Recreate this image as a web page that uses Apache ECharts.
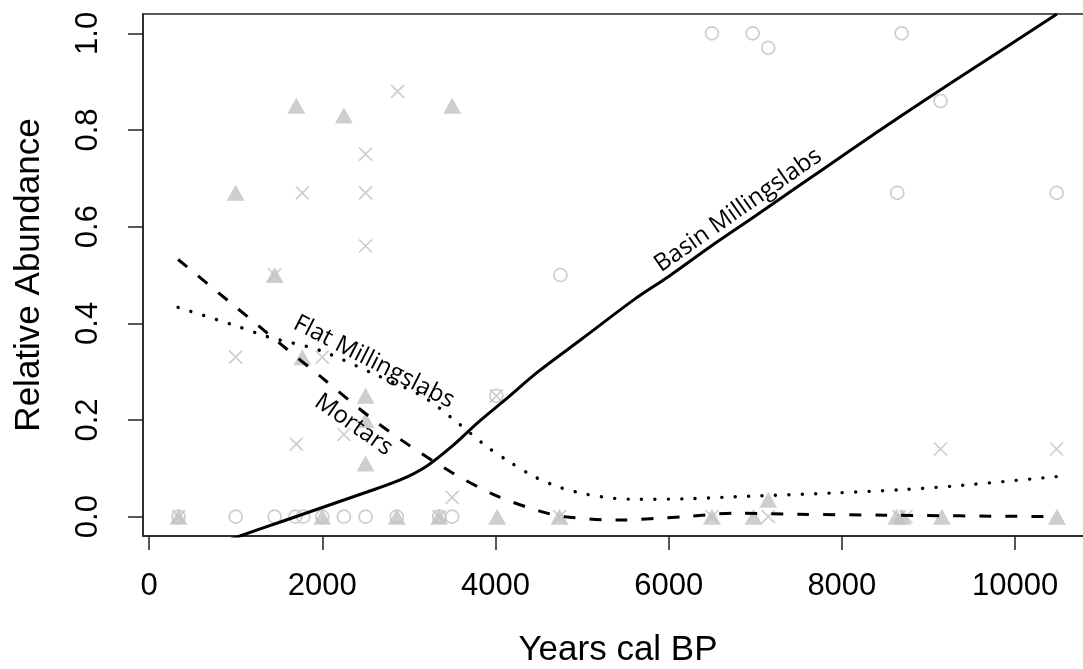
<!DOCTYPE html>
<html><head><meta charset="utf-8">
<script src="https://cdn.jsdelivr.net/npm/echarts@6/dist/echarts.min.js"></script>
<style>html,body{margin:0;padding:0;background:#fff}#c{width:1083px;height:669px}</style>
</head><body><div id="c"></div>
<script>
// ---- data ----
const xTicks = [0, 2000, 4000, 6000, 8000, 10000];
const yTicks = [0, 0.2, 0.4, 0.6, 0.8, 1.0];

const circlePts = [
  [6500, 1.0], [6970, 1.0], [7150, 0.97], [8690, 1.0], [9140, 0.86], [8640, 0.67], [10480, 0.67],
  [4750, 0.5], [4010, 0.25],
  [340, 0], [1000, 0], [1450, 0], [1690, 0], [1780, 0], [2000, 0], [2250, 0], [2500, 0],
  [2860, 0], [3350, 0], [3500, 0]
];
const trianglePts = [
  [1700, 0.85], [2250, 0.83], [3500, 0.85], [1000, 0.67], [1450, 0.5], [1770, 0.33],
  [2500, 0.25], [2500, 0.2], [2500, 0.11], [7150, 0.035],
  [340, 0], [2000, 0], [2860, 0], [3350, 0], [4020, 0], [4740, 0], [6500, 0], [6980, 0],
  [8630, 0], [8700, 0], [9155, 0], [10484, 0]
];
const crossPts = [
  [2870, 0.88], [2500, 0.75], [1770, 0.67], [2500, 0.67], [2500, 0.56], [1450, 0.5],
  [1000, 0.33], [2000, 0.33], [1700, 0.15], [2250, 0.17], [3500, 0.04], [4010, 0.25],
  [9140, 0.14], [10480, 0.14],
  [340, 0], [3350, 0], [4740, 0], [6500, 0], [7150, 0], [8660, 0], [8740, 0]
];

const basinLine = [
  [350, -0.085], [1050, -0.04], [1500, -0.012], [2000, 0.019], [2500, 0.05], [2900, 0.076],
  [3200, 0.104], [3500, 0.146], [3800, 0.195], [4100, 0.24], [4500, 0.301], [5000, 0.368], [5600, 0.449],
  [6000, 0.497], [6500, 0.561], [7000, 0.622], [7500, 0.684], [8100, 0.758], [8700, 0.831],
  [9250, 0.896], [10484, 1.04]
];
const flatLine = [
  [335, 0.433], [1000, 0.395], [1375, 0.372], [1972, 0.344], [2588, 0.296], [3166, 0.248],
  [3552, 0.196], [3900, 0.145], [4167, 0.113], [4457, 0.082], [4753, 0.06], [5061, 0.046],
  [5369, 0.038], [5670, 0.036], [6200, 0.037], [6750, 0.041], [7900, 0.049], [8700, 0.056],
  [9330, 0.064], [10484, 0.083]
];
const mortarLine = [
  [335, 0.532], [1000, 0.434], [1500, 0.36], [2000, 0.287], [2550, 0.206], [3000, 0.148],
  [3500, 0.091], [4000, 0.044], [4500, 0.012], [4800, 0.0], [5400, -0.007], [6170, 0.0],
  [6750, 0.007], [7500, 0.005], [8500, 0.003], [10484, 0.0]
];

const curveLabels = [
  { text: 'Basin Millingslabs', at: [6802, 0.634], angle: 35 },
  { text: 'Flat Millingslabs', at: [2597, 0.32], angle: -27 },
  { text: 'Mortars', at: [2362, 0.19], angle: -35 }
];

// ---- chart ----
const gray = '#c2c2c2';
const chart = echarts.init(document.getElementById('c'), null, { renderer: 'canvas' });
const axisFont = 'Liberation Sans';

chart.setOption({
  animation: false,
  backgroundColor: '#fff',
  grid: { left: 143, top: 14, right: -10, bottom: 133, show: true, borderColor: '#222', borderWidth: 1.5,
          containLabel: false, outerBoundsMode: 'none' },
  xAxis: {
    type: 'value', min: -70, max: 10900,
    name: 'Years cal BP', nameLocation: 'middle', nameGap: 97,
    nameTextStyle: { fontFamily: axisFont, fontSize: 35, color: '#000' },
    axisLine: { show: true, onZero: false, lineStyle: { color: '#222', width: 1.5 } },
    axisTick: { show: true, length: 14, customValues: xTicks, lineStyle: { color: '#222', width: 1.5 } },
    axisLabel: { customValues: xTicks, margin: 35, fontFamily: axisFont, fontSize: 31, color: '#000', formatter: v => String(v) },
    splitLine: { show: false }
  },
  yAxis: {
    type: 'value', min: -0.04, max: 1.04,
    name: 'Relative Abundance', nameLocation: 'middle', nameGap: 96, nameRotate: 90,
    nameTextStyle: { fontFamily: axisFont, fontSize: 35, color: '#000' },
    axisLine: { show: true, onZero: false, lineStyle: { color: '#222', width: 1.5 } },
    axisTick: { show: true, length: 15, customValues: yTicks, lineStyle: { color: '#222', width: 1.5 } },
    axisLabel: { customValues: yTicks, rotate: 90, margin: 39, fontFamily: axisFont, fontSize: 31, color: '#000', formatter: v => v.toFixed(1) },
    splitLine: { show: false }
  },
  series: [
    { name: 'tri', type: 'scatter', data: trianglePts, symbol: 'triangle', symbolSize: [18, 16],
      itemStyle: { color: gray }, z: 2 },
    { name: 'circ', type: 'scatter', data: circlePts, symbol: 'circle', symbolSize: 13,
      itemStyle: { color: 'rgba(0,0,0,0)', borderColor: gray, borderWidth: 1.7 }, z: 3 },
    { name: 'cross', type: 'scatter', data: crossPts, symbol: 'path://M0,0L10,10M10,0L0,10', symbolSize: 13,
      itemStyle: { color: 'rgba(0,0,0,0)', borderColor: gray, borderWidth: 1.7 }, z: 4 },
    { name: 'Basin Millingslabs', type: 'line', data: basinLine, smooth: 0.3, showSymbol: false, clip: true,
      lineStyle: { color: '#000', width: 3 }, z: 5 },
    { name: 'Flat Millingslabs', type: 'line', data: flatLine, smooth: 0.3, showSymbol: false, clip: true,
      lineStyle: { color: '#000', width: 3.4, type: [0.1, 13.3], cap: 'round' }, z: 5 },
    { name: 'Mortars', type: 'line', data: mortarLine, smooth: 0.3, showSymbol: false, clip: true,
      lineStyle: { color: '#000', width: 3, type: [12, 14], cap: 'butt' }, z: 5 }
  ]
});

const g = curveLabels.map(l => {
  const p = chart.convertToPixel({ gridIndex: 0 }, l.at);
  return {
    type: 'text', x: p[0], y: p[1], rotation: l.angle * Math.PI / 180, z: 10,
    style: { text: l.text, font: '24px "Open Sans"', fill: '#000', align: 'center', verticalAlign: 'middle' }
  };
});
chart.setOption({ graphic: g });
</script>
</body></html>
